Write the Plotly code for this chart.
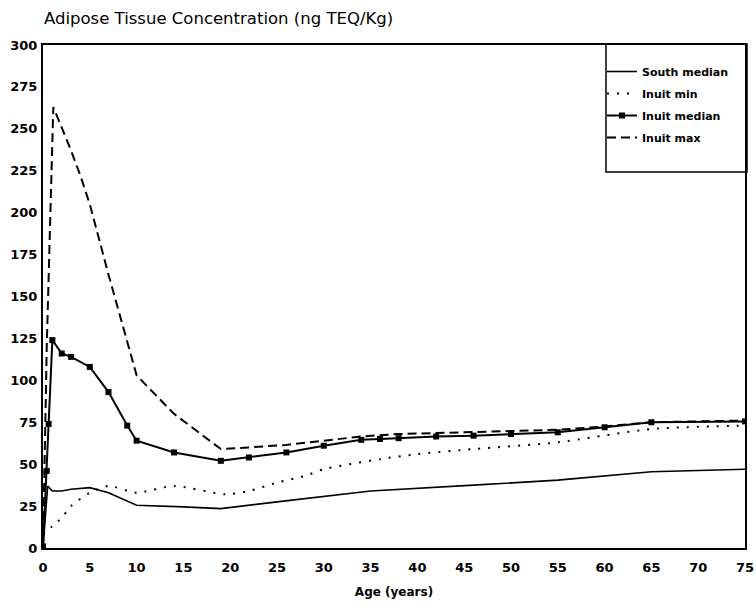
import plotly.graph_objects as go

# ---- data ----
south_age = [0, 0.5, 1, 2, 3, 5, 7, 10, 15, 19, 25, 35, 46, 55, 65, 75]
south_median = [0, 37, 34, 34, 35, 36, 33, 25.5, 24.5, 23.5, 27.5, 34, 37.5, 40.5, 45.5, 47]

min_age = [0, 1, 2, 3, 5, 7, 10, 14, 19.5, 22, 25, 28, 30, 36, 40, 46, 55, 65, 75]
inuit_min = [8, 13, 18, 25, 33, 37, 33, 37, 32, 34, 39, 43, 47, 53, 56, 59, 63, 71, 73]

med_age = [0, 0.4, 0.6, 1, 2, 3, 5, 7, 9, 10, 14, 19, 22, 26, 30, 34, 36, 38, 42, 46, 50, 55, 60, 65, 75]
inuit_median = [1, 46, 74, 124, 116, 114, 108, 93, 73, 64, 57, 52, 54, 57, 61, 64.5, 65, 65.5,
                 66.5, 67, 68, 69, 72, 75, 75.5]

max_age = [0, 0.4, 1.1, 2, 3, 4, 5, 7, 9, 10, 14, 19, 22, 26, 30, 34, 38, 42, 46, 50, 55, 60, 65, 75]
inuit_max = [0, 120, 263, 251, 237, 222, 205, 163, 122, 103, 80, 59, 60, 61.5, 64, 66.5, 68, 68.5,
             69, 69.5, 70.5, 72.5, 75, 76]

x_ticks = list(range(0, 76, 5))
y_ticks = list(range(0, 301, 25))

FONT = "DejaVu Sans"

fig = go.Figure()
fig.add_trace(go.Scatter(x=south_age, y=south_median, mode="lines", name="South median",
                         legendgroup="a", line=dict(color="black", width=1.6)))
fig.add_trace(go.Scatter(x=min_age, y=inuit_min, mode="lines", name="Inuit min",
                         legendgroup="b", line=dict(color="black", width=2, dash="2px,8px",
                                                    shape="spline", smoothing=0.6)))
fig.add_trace(go.Scatter(x=med_age, y=inuit_median, mode="lines+markers", name="Inuit median",
                         legendgroup="c", line=dict(color="black", width=2),
                         marker=dict(symbol="square", size=6, color="black")))
fig.add_trace(go.Scatter(x=max_age, y=inuit_max, mode="lines", name="Inuit max",
                         legendgroup="d", line=dict(color="black", width=2, dash="9px,5px")))

fig.update_layout(
    width=756, height=612,
    margin=dict(l=43, r=11, t=45, b=64),
    paper_bgcolor="white", plot_bgcolor="white",
    font=dict(family=FONT, color="black"),
    title=dict(text="Adipose Tissue Concentration (ng TEQ/Kg)", x=44 / 756, xanchor="left",
               xref="container", y=1 - 18 / 612, yref="container", yanchor="middle",
               font=dict(family=FONT, size=16.5, color="black")),
    showlegend=True,
    legend=dict(x=(602 - 43) / 702, xanchor="left", y=(548 - 57) / 503, yanchor="top",
                bgcolor="rgba(0,0,0,0)", borderwidth=0, tracegroupgap=3,
                font=dict(family=FONT, size=11, color="black", weight="bold")),
    shapes=[dict(type="rect", xref="paper", yref="paper",
                 x0=(606 - 43) / 702, x1=(747 - 43) / 702,
                 y0=(548 - 172) / 503, y1=(548 - 44) / 503,
                 line=dict(color="black", width=1.5), fillcolor="rgba(0,0,0,0)", layer="below")],
)
fig.update_xaxes(range=[0, 75], tickvals=x_ticks, ticktext=[str(v) for v in x_ticks],
                 automargin=False,
                 showgrid=False, zeroline=False, showline=True, linecolor="black", linewidth=2,
                 mirror=True, ticks="", ticklabelstandoff=6,
                 tickfont=dict(family=FONT, size=13, color="black", weight="bold"),
                 title=dict(text="Age (years)", standoff=14,
                            font=dict(family=FONT, size=12, color="black", weight="bold")))
fig.update_yaxes(range=[0, 300], tickvals=y_ticks, ticktext=[str(v) for v in y_ticks],
                 automargin=False,
                 showgrid=False, zeroline=False, showline=True, linecolor="black", linewidth=2,
                 mirror=True, ticks="", ticklabelstandoff=1,
                 tickfont=dict(family=FONT, size=13, color="black", weight="bold"))

fig.write_html("out.html", config={"displayModeBar": False},
               post_script="document.body.style.margin='0';")
